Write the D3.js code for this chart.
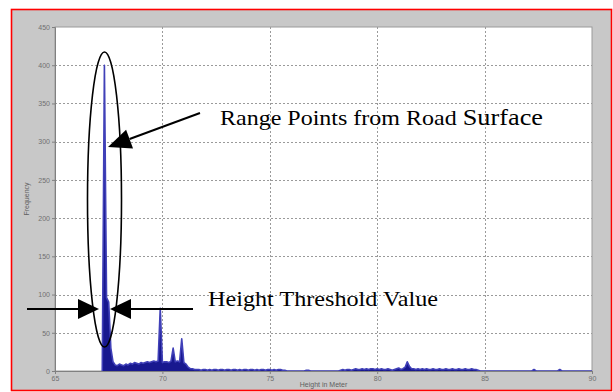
<!DOCTYPE html>
<html>
<head>
<meta charset="utf-8">
<script src="https://cdn.jsdelivr.net/npm/d3@7"></script>
<style>
  html, body { margin: 0; padding: 0; background: #fff; }
  svg { display: block; }
</style>
</head>
<body>
<svg id="chart" width="613" height="392"></svg>
<script>
// Histogram of point heights (bin width 0.1 m, first bin centre 67.2 m)
const binStart = 67.2;
const binWidth = 0.1;
const counts = [
  0, 400, 96, 90, 30, 12, 8, 7, 9, 8,      // 67.2 - 68.1
  7, 9, 8, 10, 9, 11, 10, 9, 11, 10,       // 68.2 - 69.1
  11, 12, 11, 12, 13, 12, 13, 82, 11, 12,  // 69.2 - 70.1
  12, 11, 13, 30, 12, 13, 12, 42, 11, 9,   // 70.2 - 71.1
  5, 3, 3, 2, 2, 2, 1, 2, 2, 1,            // 71.2 - 72.1
  2, 1, 2, 2, 1, 2, 2, 1, 2, 2,            // 72.2 - 73.1
  1, 2, 2, 1, 2, 1, 2, 2, 1, 2,            // 73.2 - 74.1
  2, 1, 2, 1, 2, 2, 1, 2, 2, 1,            // 74.2 - 75.1
  2, 1, 2, 2, 1, 1, 0, 0, 0, 0,            // 75.2 - 76.1
  0, 0, 0, 0, 0, 1, 1, 0, 0, 0,            // 76.2 - 77.1
  0, 0, 0, 0, 0, 0, 0, 0, 0, 0,            // 77.2 - 78.1
  0, 1, 2, 1, 2, 2, 1, 2, 3, 2,            // 78.2 - 79.1
  2, 3, 2, 3, 2, 3, 3, 2, 3, 2,            // 79.2 - 80.1
  3, 2, 2, 3, 2, 1, 2, 3, 4, 2,            // 80.2 - 81.1
  3, 5, 12, 6, 3, 3, 2, 3, 2, 3,           // 81.2 - 82.1
  2, 3, 2, 2, 3, 2, 2, 3, 2, 2,            // 82.2 - 83.1
  3, 2, 2, 3, 2, 2, 3, 2, 2, 3,            // 83.2 - 84.1
  2, 2, 3, 2, 2, 1, 0, 0, 0, 0,            // 84.2 - 85.1
  0, 0, 0, 0, 0, 0, 0, 0, 0, 0,            // 85.2 - 86.1
  0, 0, 0, 0, 0, 0, 0, 0, 0, 0,            // 86.2 - 87.1
  0, 2, 0, 0, 0, 0, 0, 0, 0, 0,            // 87.2 - 88.1
  0, 0, 0, 2, 0, 0, 0, 0, 0, 0,            // 88.2 - 89.1
  0, 0, 0, 0, 0, 0, 0, 0, 0                // 89.2 - 90.0
];
const xTicks = [65, 70, 75, 80, 85, 90];
const yTicks = [0, 50, 100, 150, 200, 250, 300, 350, 400, 450];
const xTitle = "Height in Meter";
const yTitle = "Frequency";
const noteSurface = ["Range Points from Road ", "Surface"];
const noteThreshold = "Height Threshold Value";

const svg = d3.select("#chart");
const W = 613, H = 392;
const plot = { left: 55, top: 27, right: 592, bottom: 371 };

// figure frame
svg.append("rect").attr("x", 0).attr("y", 0).attr("width", W).attr("height", H).attr("fill", "#fff");
svg.append("rect")
  .attr("x", 11.5).attr("y", 9.5).attr("width", 600).attr("height", 381)
  .attr("fill", "#c8c8c8").attr("stroke", "#f00").attr("stroke-width", 1.6);

const x = d3.scaleLinear().domain([65, 90]).range([plot.left, plot.right]);
const y = d3.scaleLinear().domain([0, 450]).range([plot.bottom, plot.top]);

// axes background
svg.append("rect")
  .attr("x", plot.left).attr("y", plot.top)
  .attr("width", plot.right - plot.left).attr("height", plot.bottom - plot.top)
  .attr("fill", "#fff").attr("stroke", "#9a9a9a").attr("stroke-width", 1);

// dotted grid
const grid = svg.append("g").attr("stroke", "#9a9a9a").attr("stroke-width", 1)
  .attr("stroke-dasharray", "2,2");
grid.selectAll("line.gy").data(yTicks.filter(d => d > 0 && d < 450)).join("line")
  .attr("x1", plot.left).attr("x2", plot.right)
  .attr("y1", d => Math.round(y(d)) + 0.5).attr("y2", d => Math.round(y(d)) + 0.5);
grid.selectAll("line.gx").data(xTicks.filter(d => d > 65 && d < 90)).join("line")
  .attr("y1", plot.top).attr("y2", plot.bottom)
  .attr("x1", d => Math.round(x(d)) + 0.5).attr("x2", d => Math.round(x(d)) + 0.5);

// histogram trace
const pts = counts.map((c, i) => [binStart + i * binWidth, c]);
const area = d3.area().x(d => x(d[0])).y0(y(0)).y1(d => y(d[1]));
const line = d3.line().x(d => x(d[0])).y(d => y(d[1]));
svg.append("path").datum(pts).attr("d", area).attr("fill", "#18188f");
svg.append("path").datum(pts).attr("d", line)
  .attr("fill", "none").attr("stroke", "#4040b8").attr("stroke-width", 1.6).attr("stroke-linejoin", "round");

// axes
const xAxis = d3.axisBottom(x).tickValues(xTicks).tickSize(3).tickPadding(2);
const yAxis = d3.axisLeft(y).tickValues(yTicks).tickSize(3).tickPadding(2);
const gx = svg.append("g").attr("transform", `translate(0,${plot.bottom})`).call(xAxis);
const gy = svg.append("g").attr("transform", `translate(${plot.left},0)`).call(yAxis);
[gx, gy].forEach(g => {
  g.select(".domain").attr("stroke", "#808080");
  g.selectAll(".tick line").attr("stroke", "#808080");
  g.selectAll(".tick text").attr("fill", "#707070")
    .style("font-family", "Arial, 'Liberation Sans', sans-serif").style("font-size", "7px");
});

// axis titles
svg.append("text").attr("x", (plot.left + plot.right) / 2).attr("y", 387)
  .attr("text-anchor", "middle").attr("fill", "#606060")
  .style("font-family", "Arial, 'Liberation Sans', sans-serif").style("font-size", "7px")
  .text(xTitle);
svg.append("text").attr("transform", `translate(29,${(plot.top + plot.bottom) / 2}) rotate(-90)`)
  .attr("text-anchor", "middle").attr("fill", "#606060")
  .style("font-family", "Arial, 'Liberation Sans', sans-serif").style("font-size", "7px")
  .text(yTitle);

// annotations
const ann = svg.append("g");
ann.append("ellipse").attr("cx", 104.5).attr("cy", 199.5).attr("rx", 17).attr("ry", 147.5)
  .attr("fill", "none").attr("stroke", "#000").attr("stroke-width", 1.6);

function arrow(x1, y1, x2, y2, len, half) {
  const a = Math.atan2(y2 - y1, x2 - x1);
  const bx = x2 - len * Math.cos(a), by = y2 - len * Math.sin(a);
  ann.append("line").attr("x1", x1).attr("y1", y1).attr("x2", bx).attr("y2", by)
    .attr("stroke", "#000").attr("stroke-width", 2);
  const px = -Math.sin(a) * half, py = Math.cos(a) * half;
  ann.append("path")
    .attr("d", `M${x2},${y2}L${bx + px},${by + py}L${bx - px},${by - py}Z`)
    .attr("fill", "#000");
}
arrow(200, 113, 108, 147, 23, 10);
arrow(27, 309, 99, 309, 21, 10);
arrow(193, 309, 110, 309, 21, 10);

const t1 = ann.append("text").attr("x", 220).attr("y", 125)
  .attr("textLength", 323).attr("lengthAdjust", "spacingAndGlyphs")
  .style("font-family", "'Liberation Serif', 'Times New Roman', serif").style("font-size", "21px")
  .attr("fill", "#000");
t1.append("tspan").text(noteSurface[0]);
t1.append("tspan").style("font-size", "23px").text(noteSurface[1]);

ann.append("text").attr("x", 208).attr("y", 306)
  .attr("textLength", 230).attr("lengthAdjust", "spacingAndGlyphs")
  .style("font-family", "'Liberation Serif', 'Times New Roman', serif").style("font-size", "22px")
  .attr("fill", "#000").text(noteThreshold);
</script>
</body>
</html>
